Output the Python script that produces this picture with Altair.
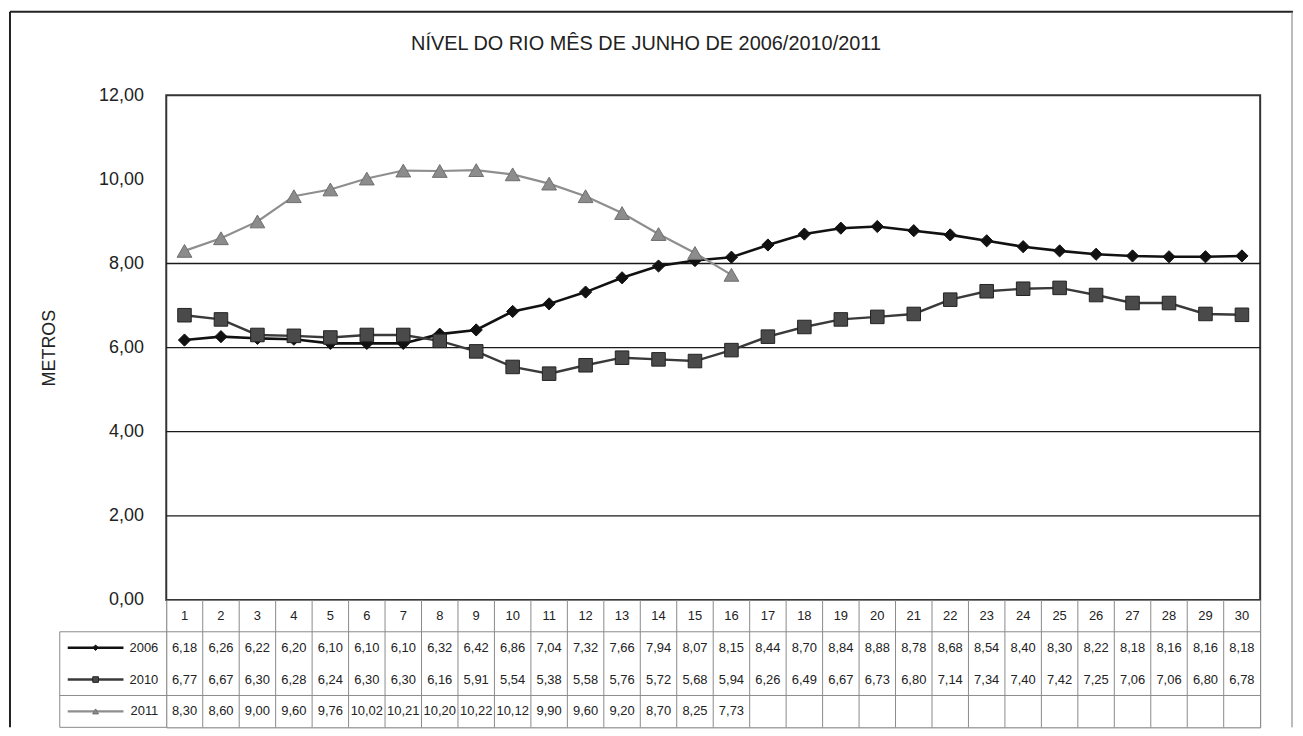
import altair as alt
import pandas as pd

# ---------------- data ----------------
days = list(range(1, 31))
series = ["2006", "2010", "2011"]
v2006 = [6.18, 6.26, 6.22, 6.20, 6.10, 6.10, 6.10, 6.32, 6.42, 6.86,
         7.04, 7.32, 7.66, 7.94, 8.07, 8.15, 8.44, 8.70, 8.84, 8.88,
         8.78, 8.68, 8.54, 8.40, 8.30, 8.22, 8.18, 8.16, 8.16, 8.18]
v2010 = [6.77, 6.67, 6.30, 6.28, 6.24, 6.30, 6.30, 6.16, 5.91, 5.54,
         5.38, 5.58, 5.76, 5.72, 5.68, 5.94, 6.26, 6.49, 6.67, 6.73,
         6.80, 7.14, 7.34, 7.40, 7.42, 7.25, 7.06, 7.06, 6.80, 6.78]
v2011 = [8.30, 8.60, 9.00, 9.60, 9.76, 10.02, 10.21, 10.20, 10.22, 10.12,
         9.90, 9.60, 9.20, 8.70, 8.25, 7.73]
y_ticks = [0, 2, 4, 6, 8, 10, 12]
grid_vals = [2, 4, 6, 8]
title_text = "NÍVEL DO RIO MÊS DE JUNHO DE 2006/2010/2011"
y_title = "METROS"
header_key = "dia"

# ---------------- styles ----------------
FONT = "Liberation Sans, Arial, sans-serif"
line_colors = ["#111111", "#3a3a3a", "#8e8e8e"]
fill_colors = ["#111111", "#4a4a4a", "#8c8c8c"]
edge_colors = ["#111111", "#222222", "#6e6e6e"]
shapes = ["diamond", "square", "triangle-up"]
widths = [2.6, 2.2, 2.0]
sizes = [150, 220, 260]
legend_sizes = [30, 34, 20]

W, H, TH = 1099, 507, 128

rows = []
for name, vals in zip(series, [v2006, v2010, v2011]):
    for d, v in zip(days, vals):
        rows.append({"day": d, "series": name, "value": v,
                     "label": f"{v:.2f}".replace(".", ",")})
df = pd.DataFrame(rows)
days_df = pd.DataFrame({"day": days, "label": [str(d) for d in days], "row": header_key})
legend_df = pd.DataFrame({"series": series})

xs = alt.Scale(domain=[0.5, 30.5], nice=False, zero=False)
ys = alt.Scale(domain=[0, 12], nice=False)
col_line = alt.Color("series:N", scale=alt.Scale(domain=series, range=line_colors), legend=None)
sw = alt.StrokeWidth("series:N", scale=alt.Scale(domain=series, range=widths), legend=None)
shp = alt.Shape("series:N", scale=alt.Scale(domain=series, range=shapes), legend=None)
fil = alt.Fill("series:N", scale=alt.Scale(domain=series, range=fill_colors), legend=None)
stk = alt.Stroke("series:N", scale=alt.Scale(domain=series, range=edge_colors), legend=None)

yaxis = alt.Axis(values=y_ticks, labelExpr="replace(format(datum.value, '.2f'), '.', ',')",
                 grid=False, ticks=False, tickSize=0, domain=False,
                 labelFont=FONT, labelFontSize=18, labelColor="#222222", labelPadding=23,
                 title=y_title, titleFont=FONT, titleFontSize=18, titleFontWeight="normal",
                 titleColor="#222222", titlePadding=40)

# ---------------- top chart ----------------
grid = alt.Chart(pd.DataFrame({"g": grid_vals})).mark_rule(
    color="#1a1a1a", strokeWidth=1.3
).encode(y=alt.Y("g:Q", scale=ys, axis=yaxis))

lines = alt.Chart(df).mark_line().encode(
    x=alt.X("day:Q", scale=xs, axis=None),
    y=alt.Y("value:Q", scale=ys),
    color=col_line, strokeWidth=sw, detail="series:N",
)

points = alt.Chart(df).mark_point(filled=True, opacity=1, strokeWidth=1).encode(
    x=alt.X("day:Q", scale=xs, axis=None),
    y=alt.Y("value:Q", scale=ys),
    shape=shp, fill=fil, stroke=stk,
    size=alt.Size("series:N", scale=alt.Scale(domain=series, range=sizes), legend=None),
)

title = alt.Chart(pd.DataFrame({"t": [title_text]})).mark_text(
    font=FONT, fontSize=20, color="#222222", align="center", baseline="middle"
).encode(text="t:N", x=alt.value(482), y=alt.value(-51))

one = pd.DataFrame({"k": [0]})
border_l = alt.Chart(one).mark_rule(color="#222222", strokeWidth=2).encode(
    x=alt.value(-157), y=alt.value(-84), y2=alt.value(H + TH))
border_t = alt.Chart(one).mark_rule(color="#222222", strokeWidth=2).encode(
    x=alt.value(-157), x2=alt.value(1132), y=alt.value(-84))
border_r = alt.Chart(one).mark_rule(color="#777777", strokeWidth=1).encode(
    x=alt.value(1131), y=alt.value(-84), y2=alt.value(H + TH))

top = alt.layer(grid, lines, points, title, border_l, border_t, border_r).properties(
    width=W, height=H,
    view=alt.ViewBackground(stroke="#333333", strokeWidth=2, fill="white"),
)

# ---------------- table ----------------
row_keys = [header_key] + series
rs = alt.Scale(domain=row_keys, paddingInner=0, paddingOuter=0)
TXT = dict(font=FONT, fontSize=13, color="#222222", align="center", baseline="middle")

head_txt = alt.Chart(days_df).mark_text(**TXT).encode(
    x=alt.X("day:Q", scale=xs, axis=None),
    y=alt.Y("row:N", scale=rs, axis=None), text="label:N")
val_txt = alt.Chart(df).mark_text(**TXT).encode(
    x=alt.X("day:Q", scale=xs, axis=None),
    y=alt.Y("series:N", scale=rs, axis=None), text="label:N")

vlines = alt.Chart(pd.DataFrame({"day": days[:-1]})).transform_calculate(
    b="datum.day + 0.5"
).mark_rule(color="#8a8a8a", strokeWidth=1).encode(
    x=alt.X("b:Q", scale=xs, axis=None), y=alt.value(0), y2=alt.value(TH))

hlines = alt.Chart(pd.DataFrame({"row": [series[0], series[2]]})).mark_rule(
    color="#8a8a8a", strokeWidth=1
).encode(y=alt.Y("row:N", scale=rs, axis=None, bandPosition=0),
         x=alt.value(-107), x2=alt.value(W))
hbottom = alt.Chart(one).mark_rule(color="#8a8a8a", strokeWidth=1).encode(
    x=alt.value(-107), x2=alt.value(0), y=alt.value(TH))
lborder = alt.Chart(one).mark_rule(color="#8a8a8a", strokeWidth=1).encode(
    x=alt.value(-107), y=alt.value(TH / 4), y2=alt.value(TH))

leg_line = alt.Chart(legend_df).mark_rule().encode(
    y=alt.Y("series:N", scale=rs, axis=None),
    x=alt.value(-99), x2=alt.value(-43), color=col_line, strokeWidth=sw)
leg_pt = alt.Chart(legend_df).mark_point(filled=True, opacity=1, strokeWidth=1).encode(
    y=alt.Y("series:N", scale=rs, axis=None), x=alt.value(-71),
    shape=shp, fill=fil, stroke=stk,
    size=alt.Size("series:N", scale=alt.Scale(domain=series, range=legend_sizes), legend=None))
leg_txt = alt.Chart(legend_df).mark_text(
    font=FONT, fontSize=13, color="#222222", align="right", baseline="middle"
).encode(y=alt.Y("series:N", scale=rs, axis=None), x=alt.value(-8), text="series:N")

table = alt.layer(vlines, hlines, hbottom, lborder, head_txt, val_txt,
                  leg_line, leg_pt, leg_txt).properties(
    width=W, height=TH,
    view=alt.ViewBackground(stroke="#777777", strokeWidth=1, fill="white"),
)

chart = alt.vconcat(top, table, spacing=0, bounds="flush").resolve_scale(
    size="independent"
).properties(padding=0, background="white")

chart.save("out.html", embed_options={"renderer": "svg", "actions": False})
